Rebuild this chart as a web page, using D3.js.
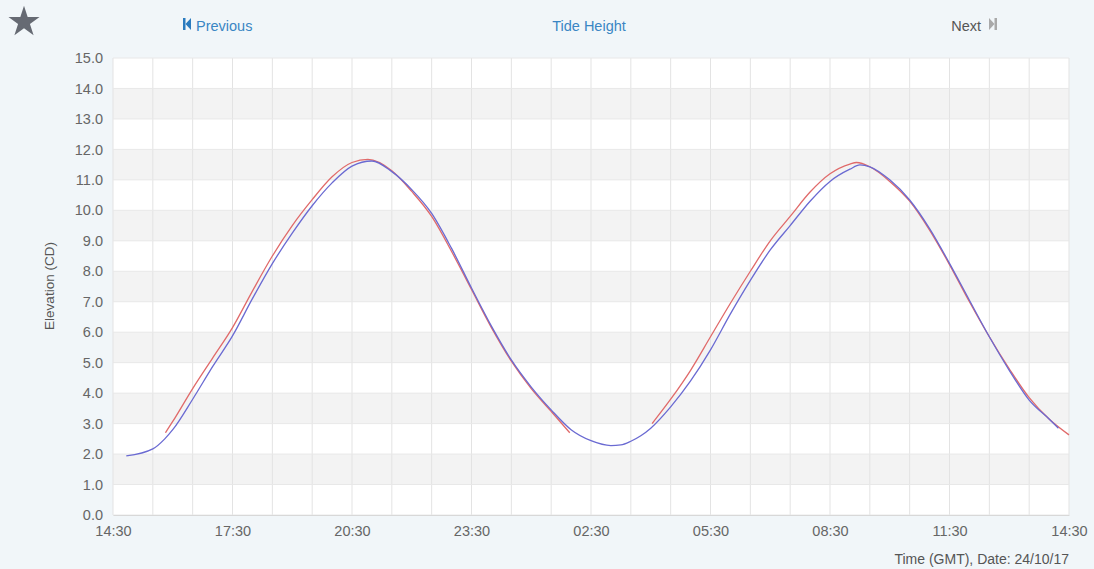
<!DOCTYPE html>
<html>
<head>
<meta charset="utf-8">
<title>Tide Height</title>
<script src="https://cdn.jsdelivr.net/npm/d3@7"></script>
<style>
  html, body { margin: 0; padding: 0; background: #f1f6f9; }
  body { width: 1094px; height: 569px; overflow: hidden; font-family: "Liberation Sans", Arial, sans-serif; }
</style>
</head>
<body>
<div id="chart"></div>
<script>
var blueTimes = ["2017-10-23 14:50", "2017-10-23 15:30", "2017-10-23 15:48", "2017-10-23 16:00", "2017-10-23 16:30",
    "2017-10-23 17:00", "2017-10-23 17:30", "2017-10-23 18:00", "2017-10-23 18:30", "2017-10-23 19:00",
    "2017-10-23 19:30", "2017-10-23 20:00", "2017-10-23 20:30", "2017-10-23 21:00", "2017-10-23 21:30",
    "2017-10-23 22:00", "2017-10-23 22:30", "2017-10-23 23:00", "2017-10-23 23:30", "2017-10-24 00:00",
    "2017-10-24 00:30", "2017-10-24 01:00", "2017-10-24 01:30", "2017-10-24 02:00", "2017-10-24 02:30",
    "2017-10-24 03:00", "2017-10-24 03:15", "2017-10-24 03:30", "2017-10-24 03:45", "2017-10-24 04:00",
    "2017-10-24 04:30", "2017-10-24 05:00",
    "2017-10-24 05:30", "2017-10-24 06:00", "2017-10-24 06:30", "2017-10-24 07:00", "2017-10-24 07:30",
    "2017-10-24 08:00", "2017-10-24 08:30", "2017-10-24 09:00", "2017-10-24 09:15", "2017-10-24 09:30",
    "2017-10-24 10:00", "2017-10-24 10:30", "2017-10-24 11:00", "2017-10-24 11:30", "2017-10-24 12:00",
    "2017-10-24 12:30", "2017-10-24 13:00", "2017-10-24 13:30", "2017-10-24 14:00", "2017-10-24 14:14"];
var blueLevels = [1.94, 2.17, 2.5, 2.8, 3.8,
    4.87, 5.88, 7.1, 8.25, 9.25,
    10.15, 10.9, 11.45, 11.62, 11.27,
    10.68, 9.9, 8.75, 7.45, 6.2,
    5.09, 4.2, 3.45, 2.8, 2.44,
    2.28, 2.3, 2.42, 2.6, 2.85,
    3.55, 4.4,
    5.42, 6.6, 7.7, 8.7, 9.5,
    10.3, 10.95, 11.35, 11.49, 11.43,
    11.0, 10.34, 9.4, 8.26, 7.05,
    5.85, 4.75, 3.77, 3.15, 2.85];

var redTimes = ["2017-10-23 15:49", "2017-10-23 16:00", "2017-10-23 16:30", "2017-10-23 17:00", "2017-10-23 17:30",
    "2017-10-23 18:00", "2017-10-23 18:30", "2017-10-23 19:00", "2017-10-23 19:30", "2017-10-23 20:00",
    "2017-10-23 20:30", "2017-10-23 20:54", "2017-10-23 21:30", "2017-10-23 22:00", "2017-10-23 22:30",
    "2017-10-23 23:00", "2017-10-23 23:30", "2017-10-24 00:00", "2017-10-24 00:30", "2017-10-24 01:00",
    "2017-10-24 01:30", "2017-10-24 01:58", "2017-10-24 03:00", "2017-10-24 04:02", "2017-10-24 04:30",
    "2017-10-24 05:00", "2017-10-24 05:30", "2017-10-24 06:00", "2017-10-24 06:30", "2017-10-24 07:00",
    "2017-10-24 07:30", "2017-10-24 08:00", "2017-10-24 08:30", "2017-10-24 09:00", "2017-10-24 09:10",
    "2017-10-24 09:30", "2017-10-24 10:00", "2017-10-24 10:30", "2017-10-24 11:00", "2017-10-24 11:30",
    "2017-10-24 12:00", "2017-10-24 12:30", "2017-10-24 13:00", "2017-10-24 13:30", "2017-10-24 14:00",
    "2017-10-24 14:30"];
var redLevels = [2.7, 3.07, 4.15, 5.15, 6.15,
    7.35, 8.5, 9.5, 10.35, 11.1,
    11.57, 11.67, 11.3, 10.62, 9.8,
    8.65, 7.4, 6.15, 5.05, 4.15,
    3.4, 2.7, null, 3.0, 3.8,
    4.75, 5.85, 6.95, 8.0, 9.0,
    9.8, 10.6, 11.2, 11.52, 11.57,
    11.43, 10.95, 10.3, 9.35, 8.22,
    7.0, 5.85, 4.8, 3.85, 3.15,
    2.63];

var xTicks = ["2017-10-23 14:30", "2017-10-23 17:30", "2017-10-23 20:30", "2017-10-23 23:30", "2017-10-24 02:30",
    "2017-10-24 05:30", "2017-10-24 08:30", "2017-10-24 11:30", "2017-10-24 14:30"];
var yTicks = [0, 1, 2, 3, 4, 5, 6, 7, 8, 9, 10, 11, 12, 13, 14, 15];

var parse = d3.utcParse("%Y-%m-%d %H:%M");

var blueData = blueTimes.map(function(t, i) { return { date: parse(t), value: blueLevels[i] }; });
var redData = redTimes.map(function(t, i) { return { date: parse(t), value: redLevels[i] }; });
var tickDates = xTicks.map(parse);

var W = 1094, H = 569;
var margin = { top: 58, right: 25, bottom: 54, left: 113 },
    width = W - margin.left - margin.right,
    height = H - margin.top - margin.bottom;

var root = d3.select("#chart")
    .append("svg")
    .attr("width", W)
    .attr("height", H)
    .style("font-family", "'Liberation Sans', Arial, sans-serif");

// header: star, previous / title / next
root.append("path")
    .attr("d", d3.symbol().type(d3.symbolStar).size(300)())
    .attr("transform", "translate(24,22)")
    .attr("fill", "#666a73");

var prev = root.append("g").attr("transform", "translate(183,25)");
prev.append("rect").attr("x", 0).attr("y", -7).attr("width", 2.5).attr("height", 12).attr("fill", "#2a7bbf");
prev.append("path").attr("d", "M8,-7 L2.5,-1 L8,5 Z").attr("fill", "#2a7bbf");
prev.append("text").attr("x", 13).attr("y", 5.5).attr("font-size", 14.5).attr("fill", "#3a86c4").text("Previous");

root.append("text")
    .attr("x", 589).attr("y", 30.5)
    .attr("text-anchor", "middle")
    .attr("font-size", 14.5)
    .attr("fill", "#3a86c4")
    .text("Tide Height");

var next = root.append("g").attr("transform", "translate(981,25)");
next.append("text").attr("x", 0).attr("y", 5.5).attr("text-anchor", "end").attr("font-size", 14.5).attr("fill", "#555").text("Next");
next.append("path").attr("d", "M8,-7 L13.5,-1 L8,5 Z").attr("fill", "#a9a9a9");
next.append("rect").attr("x", 13.5).attr("y", -7).attr("width", 2.5).attr("height", 12).attr("fill", "#a9a9a9");

var svg = root.append("g")
    .attr("transform", "translate(" + margin.left + "," + margin.top + ")");

var x = d3.scaleUtc()
    .domain([tickDates[0], tickDates[tickDates.length - 1]])
    .range([0, width]);

var y = d3.scaleLinear()
    .domain([0, 15])
    .range([height, 0]);

// plot background and alternating bands
svg.append("rect")
    .attr("width", width)
    .attr("height", height)
    .attr("fill", "#ffffff");

svg.selectAll("band")
    .data(yTicks.filter(function(d) { return d % 2 === 1 && d < 15; }))
    .enter()
    .append("rect")
    .attr("x", 0)
    .attr("y", function(d) { return y(d + 1); })
    .attr("width", width)
    .attr("height", function(d) { return y(d) - y(d + 1); })
    .attr("fill", "#f3f3f3");

// hourly vertical grid, counted from the first tick
var hours = d3.range(0, 25).map(function(i) { return d3.utcHour.offset(tickDates[0], i); });
svg.selectAll("vgrid")
    .data(hours)
    .enter()
    .append("line")
    .attr("x1", function(d) { return x(d); })
    .attr("x2", function(d) { return x(d); })
    .attr("y1", 0)
    .attr("y2", height)
    .attr("stroke", "#e3e3e3")
    .attr("stroke-width", 1);

svg.selectAll("hgrid")
    .data(yTicks)
    .enter()
    .append("line")
    .attr("x1", 0)
    .attr("x2", width)
    .attr("y1", function(d) { return y(d); })
    .attr("y2", function(d) { return y(d); })
    .attr("stroke", "#e8e8e8")
    .attr("stroke-width", 1);

// axes
var xAxis = svg.append("g")
    .attr("transform", "translate(0," + height + ")")
    .call(d3.axisBottom(x).tickValues(tickDates).tickFormat(d3.utcFormat("%H:%M")).tickSize(0).tickPadding(11));
xAxis.select(".domain").attr("stroke", "#d8d8d8");
xAxis.selectAll("text").attr("font-size", 14.5).attr("fill", "#666").attr("font-family", "'Liberation Sans', Arial, sans-serif");

var yAxis = svg.append("g")
    .call(d3.axisLeft(y).tickValues(yTicks).tickFormat(d3.format(".1f")).tickSize(0).tickPadding(10));
yAxis.select(".domain").remove();
yAxis.selectAll("text").attr("font-size", 14.5).attr("fill", "#666").attr("font-family", "'Liberation Sans', Arial, sans-serif");

// axis titles
root.append("text")
    .attr("transform", "translate(54," + (margin.top + 228) + ") rotate(-90)")
    .attr("text-anchor", "middle")
    .attr("font-size", 13.5)
    .attr("fill", "#555")
    .text("Elevation (CD)");

root.append("text")
    .attr("x", margin.left + width)
    .attr("y", 564)
    .attr("text-anchor", "end")
    .attr("font-size", 14)
    .attr("fill", "#555")
    .text("Time (GMT), Date: 24/10/17");

// tide lines
var line = d3.line()
    .defined(function(d) { return d.value !== null; })
    .x(function(d) { return x(d.date); })
    .y(function(d) { return y(d.value); })
    .curve(d3.curveMonotoneX);

svg.append("path")
    .datum(redData)
    .attr("fill", "none")
    .attr("stroke", "#e06a6a")
    .attr("stroke-width", 1.3)
    .attr("d", line);

svg.append("path")
    .datum(blueData)
    .attr("fill", "none")
    .attr("stroke", "#6a6ad2")
    .attr("stroke-width", 1.3)
    .attr("d", line);
</script>
</body>
</html>
